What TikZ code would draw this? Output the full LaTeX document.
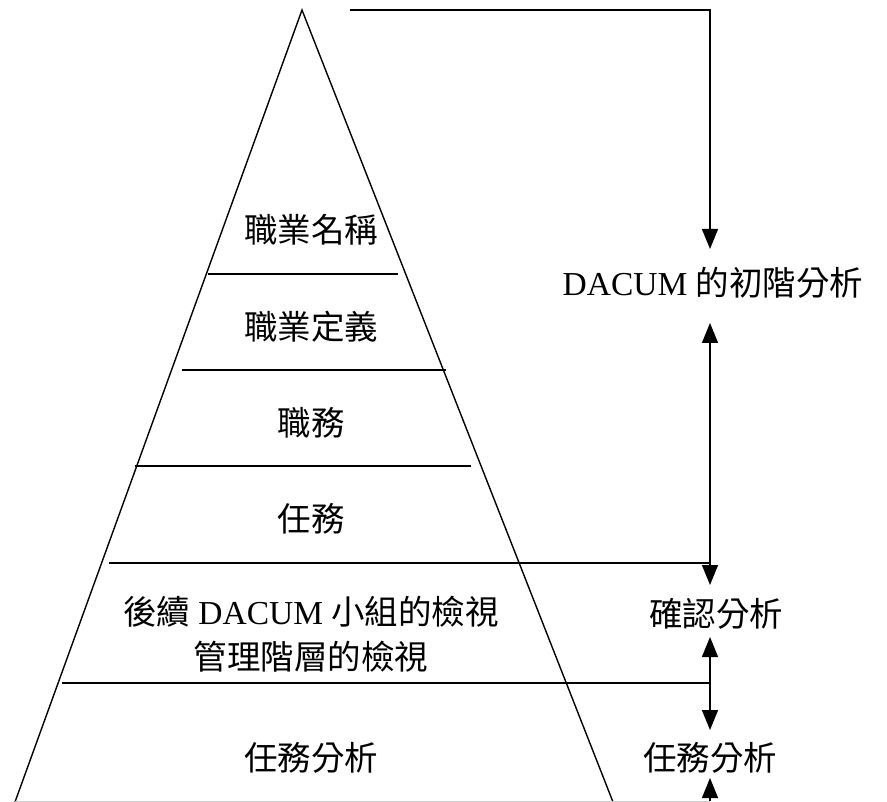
\documentclass[tikz,border=0pt]{standalone}
\usepackage{fontspec}
\setmainfont{Liberation Serif}
\newfontfamily\cjk{Noto Sans CJK TC}
\usetikzlibrary{arrows.meta}
\tikzset{
  ln/.style={line width=1.4pt, line cap=butt},
  arr/.style={ln, -{Triangle[length=20pt,width=16pt]}},
  darr/.style={ln, {Triangle[length=20pt,width=16pt]}-{Triangle[length=20pt,width=16pt]}},
  lbl/.style={inner sep=0pt, font=\fontsize{33.5}{40}\selectfont, align=center},
}
\begin{document}
\begin{tikzpicture}[x=1pt,y=-1pt]
\useasboundingbox (0,0) rectangle (887,802);
% triangle
\coordinate (A) at (302,10);
\coordinate (BL) at (15,802);
\coordinate (BR) at (613,802);
\draw[ln] (BL) -- (A) -- (BR);
\coordinate (base) at (710,801);
\draw[gray!40, line width=1pt] (15,801) -- (base);
% layer lines
\coordinate (l1a) at (208,274); \coordinate (l1b) at (398,274);
\coordinate (l2a) at (182,370); \coordinate (l2b) at (446,370);
\coordinate (l3a) at (135,466); \coordinate (l3b) at (471,466);
\coordinate (l4a) at (109,563); \coordinate (l4b) at (710,563);
\coordinate (l5a) at (62,683);  \coordinate (l5b) at (710,683);
\draw[ln] (l1a) -- (l1b);
\draw[ln] (l2a) -- (l2b);
\draw[ln] (l3a) -- (l3b);
\draw[ln] (l4a) -- (l4b);
\draw[ln] (l5a) -- (l5b);
% labels inside
\node[lbl] (t1) at (311,230) {\cjk 職業名稱};
\node[lbl] (t2) at (311,327) {\cjk 職業定義};
\node[lbl] (t3) at (311,423) {\cjk 職務};
\node[lbl] (t4) at (311,519) {\cjk 任務};
\node[lbl] (t5) at (311,612) {{\cjk 後續} DACUM {\cjk 小組的檢視}};
\node[lbl] (t6) at (311,657) {\cjk 管理階層的檢視};
\node[lbl] (t7) at (311,758) {\cjk 任務分析};
% right labels
\node[lbl] (r1) at (713,283) {DACUM {\cjk 的初階分析}};
\node[lbl] (r2) at (716,614) {\cjk 確認分析};
\node[lbl] (r3) at (710,758) {\cjk 任務分析};
% bracket arrows
\coordinate (top) at (350,10);
\coordinate (r1top) at (710,249);
\coordinate (r1bot) at (710,323);
\coordinate (r2top) at (710,585);
\coordinate (r2bot) at (710,637);
\coordinate (r3top) at (710,730);
\coordinate (r3bot) at (710,778);
\draw[arr] (top) -| (r1top);
\draw[darr] (r1bot) -- (r2top);
\draw[darr] (r2bot) -- (r3top);
\draw[arr] (base) -- (r3bot);
\end{tikzpicture}
\end{document}
